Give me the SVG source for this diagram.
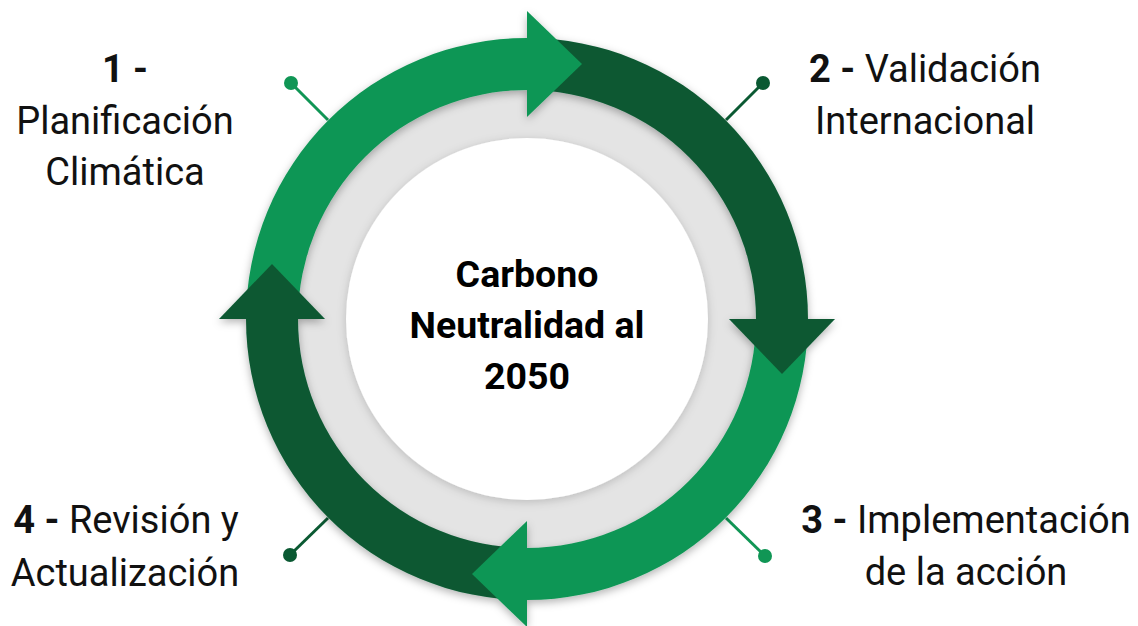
<svg xmlns="http://www.w3.org/2000/svg" width="1138" height="626" viewBox="0 0 1138 626">
<style>
.t{font-family:Roboto,"Liberation Sans",sans-serif;font-size:38px;fill:#111;text-anchor:middle}
.b{font-weight:bold}
.c{font-family:Roboto,"Liberation Sans",sans-serif;font-size:37.5px;font-weight:bold;fill:#000;text-anchor:middle}
.lg{fill:#109655}
.dg{fill:#0a5932}
.pl{stroke-width:3}
</style>
<defs>
<filter id="sh" x="-20%" y="-20%" width="140%" height="140%">
<feDropShadow dx="0" dy="3" stdDeviation="4" flood-color="#000" flood-opacity="0.3"/>
</filter>
<filter id="sh2" x="-20%" y="-20%" width="140%" height="140%">
<feDropShadow dx="0" dy="2" stdDeviation="5" flood-color="#000" flood-opacity="0.18"/>
</filter>
</defs>
<rect width="1138" height="626" fill="#fff"/>
<g id="connectors">
<line class="pl" x1="328" y1="120" x2="291" y2="83" stroke="#109655"/>
<circle cx="291" cy="83" r="7" class="lg"/>
<line class="pl" x1="726" y1="120" x2="763" y2="83" stroke="#0a5932"/>
<circle cx="763" cy="83" r="7" class="dg"/>
<line class="pl" x1="726" y1="518" x2="765" y2="556" stroke="#109655"/>
<circle cx="765" cy="556" r="7" class="lg"/>
<line class="pl" x1="328" y1="518" x2="290" y2="555" stroke="#0a5932"/>
<circle cx="290" cy="555" r="7" class="dg"/>
</g>
<g id="hub">
<circle cx="527" cy="319" r="232" fill="#e4e4e4"/>
<circle cx="527" cy="319" r="181" fill="#fff" filter="url(#sh2)"/>
<text class="c" x="527" y="287">Carbono</text>
<text class="c" x="527" y="338">Neutralidad al</text>
<text class="c" x="527" y="389">2050</text>
</g>
<g id="ring" filter="url(#sh)">
<path id="arc1" class="lg" d="M246,319 A281,281 0 0 1 527,38 L527,90 A229,229 0 0 0 298,319 Z"/>
<path id="arc2" class="dg" d="M527,38 A281,281 0 0 1 808,319 L756,319 A229,229 0 0 0 527,90 Z"/>
<path id="arc3" class="lg" d="M808,319 A281,281 0 0 1 527,600 L527,548 A229,229 0 0 0 756,319 Z"/>
<path id="arc4" class="dg" d="M527,600 A281,281 0 0 1 246,319 L298,319 A229,229 0 0 0 527,548 Z"/>
<polygon id="head1" class="lg" points="527,11 582,64 527,117"/>
<polygon id="head2" class="dg" points="729,319 835,319 782,374"/>
<polygon id="head3" class="lg" points="527,521 472,574 527,627"/>
<polygon id="head4" class="dg" points="219,319 325,319 272,264"/>
</g>
<g id="step1">
<text class="t" x="125" y="82"><tspan class="b">1 -</tspan></text>
<text class="t" x="125" y="134">Planificación</text>
<text class="t" x="125" y="185">Climática</text>
</g>
<g id="step2">
<text class="t" x="925" y="82"><tspan class="b">2 -</tspan> Validación</text>
<text class="t" x="925" y="134">Internacional</text>
</g>
<g id="step3">
<text class="t" x="966" y="533"><tspan class="b">3 -</tspan> Implementación</text>
<text class="t" x="966" y="585">de la acción</text>
</g>
<g id="step4">
<text class="t" x="126" y="533"><tspan class="b">4 -</tspan> Revisión y</text>
<text class="t" x="125" y="586">Actualización</text>
</g>
</svg>
